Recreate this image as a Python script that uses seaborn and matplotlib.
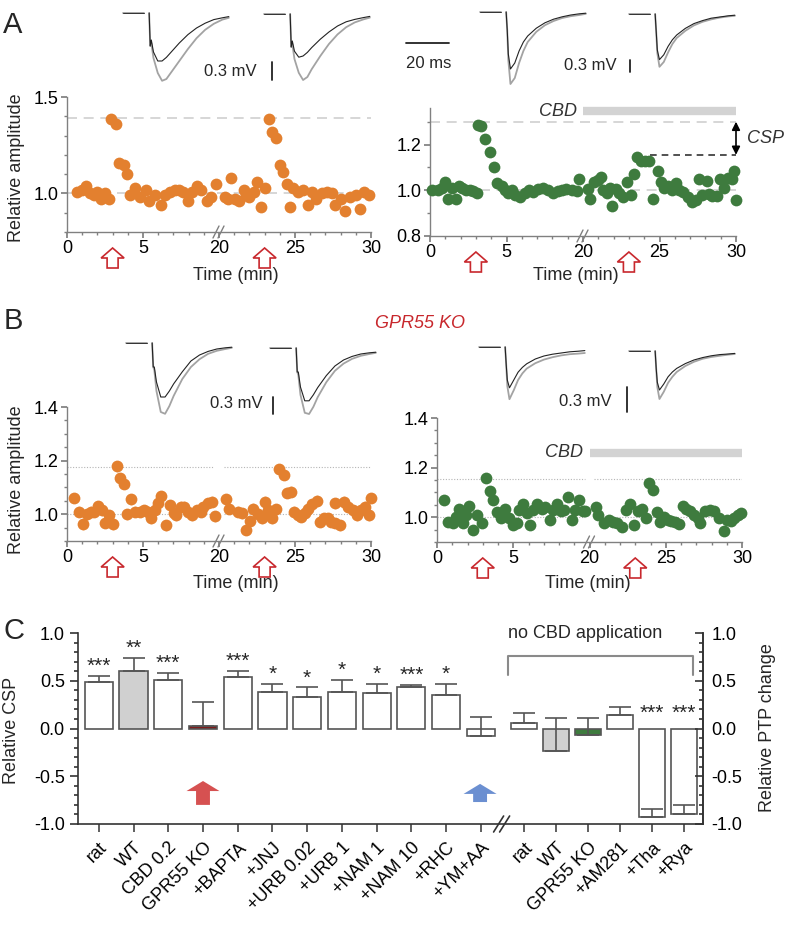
import numpy as np
import pandas as pd
import matplotlib
matplotlib.use("Agg")
import matplotlib.pyplot as plt
import seaborn as sns
from matplotlib.patches import Polygon
from matplotlib.ticker import MultipleLocator

sns.set_theme(style="ticks")
plt.rcParams["font.family"] = ["Liberation Sans", "DejaVu Sans"]
plt.rcParams["axes.unicode_minus"] = False

W, H = 789, 925

# ---- panel A/B time courses (min, relative amplitude) ----
a_ctrl_t = [0.64, 0.98, 1.27, 1.53, 1.76, 2.0, 2.24, 2.5, 2.76, 2.91, 3.2, 3.42, 3.76, 3.98, 4.16,
            4.5, 4.78, 5.18, 5.42, 5.8, 6.16, 6.47, 6.76, 7.09, 7.36, 7.64, 7.93, 8.2, 8.53, 8.82,
            9.2, 9.49, 9.8,
            20.4, 20.6, 20.8, 21.06, 21.3, 21.65, 21.8, 22.0, 22.3, 22.5, 22.75, 23.05, 23.27, 23.5,
            23.77, 24.0, 24.24, 24.46, 24.68, 24.85, 25.2, 25.5, 25.87, 26.1, 26.4, 26.8, 27.1,
            27.45, 27.66, 28.0, 28.3, 28.6, 29.0, 29.3, 29.55, 29.9]
a_ctrl_v = [1.01, 1.02, 1.04, 1.00, 0.99, 1.01, 0.97, 1.00, 0.97, 1.385, 1.36, 1.16, 1.15, 1.10, 0.99,
            1.03, 0.98, 1.02, 0.96, 0.99, 0.94, 0.99, 1.01, 1.02, 1.02, 1.01, 0.96, 1.01, 1.04, 1.02,
            0.96, 0.98, 1.05,
            0.98, 0.97, 1.08, 0.97, 0.96, 1.02, 0.99, 0.98, 1.01, 1.06, 0.93, 1.03, 1.385, 1.32,
            1.29, 1.15, 1.11, 1.05, 0.93, 1.03, 1.01, 1.02, 0.94, 1.01, 0.97, 1.00, 1.01,
            1.00, 0.94, 0.97, 0.91, 0.98, 0.99, 0.92, 1.01, 0.99]

a_cbd_t = [0.1, 0.5, 0.8, 0.98, 1.2, 1.41, 1.68, 1.92, 2.11, 2.33, 2.61, 2.83, 3.05, 3.16, 3.33,
           3.59, 3.92, 4.18, 4.36, 4.68, 4.9, 5.12, 5.38, 5.56, 5.88, 6.2, 6.47, 6.75, 7.08, 7.41,
           7.73, 8.06, 8.34, 8.6, 8.87, 9.26, 9.59, 9.74,
           20.35, 20.46, 20.74, 20.96, 21.18, 21.33, 21.55, 21.77, 21.92, 22.14, 22.35, 22.64,
           22.85, 23.14, 23.36, 23.53, 23.79, 24.05, 24.31, 24.6, 24.88, 25.1, 25.32, 25.58,
           25.84, 26.06, 26.27, 26.56, 26.88, 27.15, 27.37, 27.55, 27.8, 28.08, 28.24, 28.45,
           28.74, 28.95, 29.24, 29.5, 29.72, 29.9, 30.0]
a_cbd_v = [1.0, 1.0, 1.01, 1.036, 0.964, 1.01, 0.96, 1.02, 1.01, 1.0, 1.0, 0.997, 0.99, 1.287, 1.283,
           1.225, 1.167, 1.104, 1.03, 1.02, 1.0, 0.986, 1.0, 0.98, 0.97, 0.986, 1.0, 0.993, 1.007, 1.01,
           1.0, 0.986, 0.997, 1.0, 1.007, 1.0, 0.997, 1.05,
           1.007, 0.964, 1.036, 1.046, 1.06, 1.0, 0.99, 1.01, 0.933, 1.007, 0.99, 0.97,
           1.036, 0.978, 1.07, 1.145, 1.13, 1.128, 1.13, 0.96, 1.084, 1.036, 1.01, 1.017,
           1.0, 1.03, 1.0, 0.993, 0.97, 0.95, 0.957, 1.05, 0.978, 1.04, 0.983, 0.975,
           0.975, 1.05, 1.01, 1.055, 1.05, 1.084, 0.957]

b_ctrl_t = [0.47, 0.76, 1.04, 1.31, 1.58, 1.76, 2.02, 2.31, 2.53, 2.76, 3.04, 3.27, 3.49, 3.76, 3.98,
            4.24, 4.47, 4.82, 5.09, 5.36, 5.53, 5.76, 5.98, 6.2, 6.53, 6.76, 7.04, 7.2, 7.49, 7.71,
            7.98, 8.24, 8.53, 8.82, 8.98, 9.27, 9.53, 9.76,
            20.45, 20.63, 21.23, 21.5, 21.76, 22.03, 22.25, 22.57, 22.8, 23.05, 23.23, 23.49,
            23.77, 23.98, 24.26, 24.48, 24.74, 24.95, 25.2, 25.42, 25.64, 25.86, 26.14, 26.42,
            26.64, 26.9, 27.16, 27.38, 27.6, 27.66, 27.94, 28.2, 28.5, 28.79, 29.07, 29.33,
            29.59, 29.87, 30.0]
b_ctrl_v = [1.06, 1.009, 0.962, 1.0, 1.009, 1.009, 1.03, 1.015, 0.967, 0.996, 0.962, 1.179, 1.135,
            1.113, 1.0, 1.055, 1.009, 1.009, 1.015, 1.009, 0.984, 1.015, 1.04, 1.068, 0.958, 1.034,
            1.005, 0.996, 1.028, 1.028, 1.009, 0.996, 1.015, 1.009, 1.028, 1.04, 1.047, 0.992,
            1.055, 1.021, 1.009, 1.003, 0.942, 0.975, 1.021, 1.0, 0.984, 1.047, 1.015, 0.984,
            1.018, 1.169, 1.147, 1.08, 1.084, 1.009, 0.996, 0.99, 1.003, 1.021, 1.038, 1.05,
            0.971, 0.984, 0.984, 0.971, 1.04, 0.967, 0.958, 1.047, 1.028, 1.015, 0.996, 1.015,
            1.028, 0.996, 1.06]

b_cbd_t = [0.46, 0.74, 1.03, 1.25, 1.47, 1.73, 1.9, 2.12, 2.39, 2.65, 2.93, 3.22, 3.48, 3.7, 3.92,
           4.18, 4.47, 4.75, 4.97, 5.23, 5.4, 5.62, 5.89, 6.1, 6.32, 6.59, 6.87, 7.09, 7.38, 7.6,
           7.86, 8.12, 8.34, 8.56, 8.84, 9.06, 9.34, 9.56, 9.72,
           20.44, 20.59, 20.96, 21.25, 21.53, 21.79, 22.12, 22.41, 22.67, 22.93, 23.15, 23.44,
           23.72, 23.87, 24.16, 24.42, 24.64, 24.9, 25.12, 25.34, 25.62, 25.84, 26.13, 26.35,
           26.61, 26.87, 27.09, 27.26, 27.59, 27.88, 28.14, 28.47, 28.8, 29.02, 29.28, 29.5,
           29.72, 29.94]
b_cbd_v = [1.068, 0.981, 0.977, 1.001, 1.035, 0.977, 1.008, 1.044, 0.948, 1.008, 0.977, 1.159, 1.105,
           1.068, 1.021, 0.995, 1.035, 0.995, 0.968, 0.975, 1.028, 1.055, 1.017, 0.968, 1.028, 1.055,
           1.035, 1.041, 0.988, 1.028, 1.055, 1.025, 1.028, 1.081, 0.988, 1.028, 1.071, 1.025, 1.025,
           1.041, 1.008, 0.975, 0.988, 0.981, 0.975, 0.961, 1.028, 1.055, 0.968, 1.025, 1.035,
           0.998, 1.137, 1.111, 1.021, 0.981, 1.001, 0.988, 0.985, 0.981, 0.972, 1.044, 1.035,
           1.025, 1.008, 0.995, 0.975, 1.025, 1.028, 1.025, 0.995, 0.945, 0.988, 0.985, 0.998,
           1.008, 1.017]
point_sem = 0.02
stim_times = [3, 23]

# ---- fEPSP traces (ms after stimulus, mV) ----
base_t = [-12, -2.5]
trace_t = [0, 0.5, 1, 2, 4, 6, 8, 10, 14, 18, 22, 26, 30, 34, 37]
a_ctrl_pre = [0, -0.55, -0.45, -0.65, -0.80, -0.80, -0.74, -0.66, -0.50, -0.36, -0.25, -0.17, -0.11, -0.08, -0.06]
a_ctrl_ptp = [0, -0.55, -0.50, -0.75, -1.00, -1.13, -1.10, -1.00, -0.80, -0.60, -0.42, -0.28, -0.18, -0.11, -0.08]
a_ctrl_pre2 = [0, -0.55, -0.45, -0.62, -0.72, -0.70, -0.64, -0.56, -0.42, -0.30, -0.20, -0.13, -0.09, -0.06, -0.04]
a_ctrl_ptp2 = [0, -0.55, -0.50, -0.75, -0.98, -1.10, -1.05, -0.92, -0.70, -0.50, -0.34, -0.22, -0.14, -0.09, -0.06]
a_cbd_pre = [0, -0.30, -0.70, -0.95, -0.85, -0.65, -0.50, -0.40, -0.27, -0.18, -0.12, -0.08, -0.05, -0.03, -0.02]
a_cbd_ptp = [0, -0.30, -0.80, -1.20, -1.10, -0.85, -0.65, -0.50, -0.33, -0.22, -0.15, -0.10, -0.07, -0.05, -0.03]
a_cbd_pre2 = [0, -0.30, -0.60, -0.76, -0.68, -0.54, -0.43, -0.35, -0.24, -0.16, -0.11, -0.07, -0.05, -0.03, -0.02]
a_cbd_ptp2 = [0, -0.30, -0.65, -0.88, -0.80, -0.64, -0.50, -0.40, -0.28, -0.19, -0.13, -0.09, -0.06, -0.04, -0.03]
b_ctrl_pre = [0, -0.40, -0.40, -0.65, -0.90, -0.90, -0.80, -0.68, -0.48, -0.30, -0.20, -0.14, -0.10, -0.08, -0.07]
b_ctrl_ptp = [0, -0.40, -0.45, -0.80, -1.15, -1.18, -1.05, -0.88, -0.60, -0.40, -0.27, -0.18, -0.13, -0.10, -0.08]
b_ctrl_pre2 = [0, -0.40, -0.40, -0.65, -0.88, -0.88, -0.78, -0.66, -0.46, -0.30, -0.20, -0.14, -0.10, -0.08, -0.07]
b_ctrl_ptp2 = [0, -0.40, -0.45, -0.78, -1.08, -1.10, -0.98, -0.82, -0.57, -0.38, -0.26, -0.18, -0.13, -0.10, -0.08]
b_cbd_pre = [0, -0.30, -0.55, -0.68, -0.55, -0.42, -0.34, -0.28, -0.20, -0.15, -0.12, -0.10, -0.08, -0.07, -0.06]
b_cbd_ptp = [0, -0.30, -0.65, -0.87, -0.72, -0.55, -0.44, -0.36, -0.27, -0.21, -0.17, -0.14, -0.12, -0.11, -0.10]
b_cbd_pre2 = [0, -0.30, -0.52, -0.65, -0.55, -0.43, -0.35, -0.29, -0.21, -0.15, -0.11, -0.08, -0.06, -0.05, -0.04]
b_cbd_ptp2 = [0, -0.30, -0.60, -0.80, -0.68, -0.53, -0.43, -0.35, -0.25, -0.18, -0.13, -0.10, -0.08, -0.06, -0.05]

# ---- panel C ----
csp_labels = ["rat", "WT", "CBD 0.2", "GPR55 KO", "+BAPTA", "+JNJ", "+URB 0.02", "+URB 1",
              "+NAM 1", "+NAM 10", "+RHC", "+YM+AA"]
csp_mean = [0.49, 0.60, 0.51, 0.03, 0.54, 0.38, 0.33, 0.38, 0.37, 0.43, 0.35, -0.08]
csp_err = [0.06, 0.14, 0.07, 0.25, 0.06, 0.09, 0.10, 0.13, 0.10, 0.03, 0.12, 0.20]
csp_stars = ["***", "**", "***", "", "***", "*", "*", "*", "*", "***", "*", ""]
ptp_labels = ["rat", "WT", "GPR55 KO", "+AM281", "+Tha", "+Rya"]
ptp_mean = [0.06, -0.24, -0.07, 0.14, -0.93, -0.90]
ptp_err = [0.10, 0.35, 0.18, 0.08, 0.09, 0.10]
ptp_stars = ["", "", "", "", "***", "***"]

ORANGE, GREEN = "#e3802f", "#3e7b3e"
RED = "#c8282d"
SPINE = "#808080"

fig = plt.figure(figsize=(W / 100, H / 100), dpi=100)


def px_axes(l, t, r, b):
    return fig.add_axes([l / W, 1 - b / H, (r - l) / W, (b - t) / H])


def ftext(x, y, s, **kw):
    fig.text(x / W, 1 - y / H, s, **kw)


def to_px(ax, x, y):
    X, Y = ax.transData.transform((x, y))
    return X, H - Y


def squeeze(t):
    t = np.asarray(t, dtype=float)
    return np.where(t > 15, t - 10, t)


ov = fig.add_axes([0, 0, 1, 1], zorder=20)
ov.set_xlim(0, W)
ov.set_ylim(H, 0)
ov.axis("off")
ov.patch.set_alpha(0)


def time_panel(box, t, v, color, ecolor, ylim, major, minor, refs, dotted):
    ax = px_axes(*box)
    df = pd.DataFrame({"time": squeeze(t), "amp": v})
    for y0 in refs:
        if dotted:
            for seg in ([0, 9.7], [10.3, 20]):
                ax.plot(seg, [y0, y0], ls=(0, (1, 1.5)), color="#b5b5b5", lw=0.8, zorder=0)
        else:
            ax.plot([0, 20], [y0, y0], ls=(0, (6, 4)), color="#cfcfcf", lw=1.2, zorder=0)
    ax.errorbar(df["time"], df["amp"], yerr=point_sem, fmt="none", ecolor=ecolor, elinewidth=1, zorder=1)
    sns.scatterplot(data=df, x="time", y="amp", ax=ax, color=color, s=72, linewidth=0, zorder=3,
                    clip_on=False)
    ax.set_xlim(0, 20)
    ax.set_ylim(*ylim)
    ax.set_xticks([0, 5, 10, 15, 20])
    ax.set_xticklabels(["0", "5", "20", "25", "30"])
    ax.xaxis.set_minor_locator(MultipleLocator(1))
    ax.set_yticks(major)
    ax.set_yticklabels([f"{m:.1f}" for m in major])
    ax.yaxis.set_minor_locator(MultipleLocator(minor))
    ax.set_xlabel("")
    ax.set_ylabel("")
    sns.despine(ax=ax)
    for sp in ("left", "bottom"):
        ax.spines[sp].set_color(SPINE)
        ax.spines[sp].set_linewidth(1)
    ax.tick_params(which="both", colors=SPINE, labelcolor="black", labelsize=13, direction="out", pad=2)
    ax.tick_params(which="major", length=4)
    ax.tick_params(which="minor", length=2.5)
    ax.patch.set_alpha(0)
    # axis break and stimulus arrows
    bx, by = to_px(ax, 10, ylim[0])
    for dx in (-3, 2):
        ov.plot([bx + dx - 3, bx + dx + 3], [by + 6, by - 6], color=SPINE, lw=1)
    for ts in stim_times:
        cx, _ = to_px(ax, squeeze(ts), ylim[0])
        top = by + 16
        verts = [(cx, top), (cx + 11.5, top + 10), (cx + 5.5, top + 10), (cx + 5.5, top + 20),
                 (cx - 5.5, top + 20), (cx - 5.5, top + 10), (cx - 11.5, top + 10)]
        ov.add_patch(Polygon(verts, closed=True, fc="white", ec=RED, lw=1.2))
    return ax


axA1 = time_panel((67, 97, 371, 232), a_ctrl_t, a_ctrl_v, ORANGE, "#f3c79e", (0.8, 1.5),
                  [1.0, 1.5], 0.1, [1.0, 1.39], False)
axA2 = time_panel((430, 108, 736, 236), a_cbd_t, a_cbd_v, GREEN, "#a9c9a9", (0.8, 1.36),
                  [0.8, 1.0, 1.2], 0.1, [1.0, 1.30], False)
axB1 = time_panel((67, 407, 371, 541), b_ctrl_t, b_ctrl_v, ORANGE, "#f3c79e", (0.9, 1.4),
                  [1.0, 1.2, 1.4], 0.05, [1.0, 1.175], True)
axB2 = time_panel((437, 418, 742, 542), b_cbd_t, b_cbd_v, GREEN, "#a9c9a9", (0.9, 1.4),
                  [1.0, 1.2, 1.4], 0.05, [1.0, 1.155], True)

# CBD application bars and CSP annotation
for ax, yb in ((axA2, 1.345), (axB2, 1.26)):
    ax.plot([10, 20], [yb, yb], color="#d3d3d3", lw=6, solid_capstyle="butt", clip_on=False)
    ax.text(9.6, yb, "CBD", style="italic", ha="right", va="center", fontsize=13, color="#333333")
axA2.plot([14.4, 20], [1.155, 1.155], ls=(0, (4, 3)), color="#333333", lw=1.2)
axA2.annotate("", xy=(20, 1.30), xytext=(20, 1.155),
              arrowprops=dict(arrowstyle="<|-|>", color="black", lw=1.2, mutation_scale=12,
                              shrinkA=0, shrinkB=0), annotation_clip=False)
axA2.text(20.7, 1.228, "CSP", style="italic", ha="left", va="center", fontsize=13, color="#333333")


# traces
def trace_pair(sx, by, pre, ptp):
    ax = px_axes(sx - 30, by - 6, sx + 82, by + 75)
    ax.plot(base_t, [0, 0], color="#9a9a9a", lw=1.2)
    ax.plot(base_t, [0, 0], color="#333333", lw=0.7)
    ax.plot(trace_t, ptp, color="#a3a3a3", lw=1.3)
    ax.plot(trace_t, pre, color="#222222", lw=0.8)
    ax.set_xlim(-14, 38)
    ax.set_ylim(-1.25, 0.1)
    ax.axis("off")


trace_pair(149, 13, a_ctrl_pre, a_ctrl_ptp)
trace_pair(290, 14, a_ctrl_pre2, a_ctrl_ptp2)
trace_pair(506, 12, a_cbd_pre, a_cbd_ptp)
trace_pair(655, 14, a_cbd_pre2, a_cbd_ptp2)
trace_pair(152, 343, b_ctrl_pre, b_ctrl_ptp)
trace_pair(296, 348, b_ctrl_pre2, b_ctrl_ptp2)
trace_pair(505, 347, b_cbd_pre, b_cbd_ptp)
trace_pair(655, 351, b_cbd_pre2, b_cbd_ptp2)

# scale bars
for x, y0, y1, tx, ty in ((272, 62, 80, 257, 71), (630, 60, 72, 617, 66),
                          (273, 397, 414, 263, 404), (627, 387, 412, 612, 401)):
    ov.plot([x, x], [y0, y1], color="#222222", lw=1.3)
    ftext(tx, ty, "0.3 mV", ha="right", va="center", fontsize=12)
ov.plot([406, 449], [43, 43], color="#222222", lw=1.3)
ftext(429, 63, "20 ms", ha="center", va="center", fontsize=12)

# labels
ftext(13, 25, "A", fontsize=21, ha="center", va="center")
ftext(13, 321, "B", fontsize=21, ha="center", va="center")
ftext(14, 631, "C", fontsize=21, ha="center", va="center")
ftext(420, 323, "GPR55 KO", color=RED, style="italic", fontsize=13, ha="center", va="center")
for x, y in ((236, 276), (576, 276), (236, 584), (588, 584)):
    ftext(x, y, "Time (min)", fontsize=13, ha="center", va="center")
ftext(17, 168, "Relative amplitude", rotation=90, fontsize=13, ha="center", va="center")
ftext(17, 480, "Relative amplitude", rotation=90, fontsize=13, ha="center", va="center")

# ---- panel C bars ----
axC = px_axes(78, 633, 703, 824)
pos_c = np.arange(len(csp_labels))
pos_p = 12.25 + 0.92 * np.arange(len(ptp_labels))
EDGE = "#555555"
csp_fill = ["white"] * len(csp_labels)
csp_fill[1], csp_fill[3] = "#d0d0d0", "#7d1c1c"
ptp_fill = ["white"] * len(ptp_labels)
ptp_fill[1], ptp_fill[2] = "#d0d0d0", "#3e7b3e"

for pos, mean, err, fill, stars, wd in ((pos_c, csp_mean, csp_err, csp_fill, csp_stars, 0.81),
                                        (pos_p, ptp_mean, ptp_err, ptp_fill, ptp_stars, 0.75)):
    axC.bar(pos, mean, width=wd, color=fill, edgecolor=EDGE, lw=1.2, zorder=2)
    axC.errorbar(pos, mean, yerr=[np.zeros(len(err)), err], fmt="none", ecolor=EDGE,
                 elinewidth=1.2, capsize=8, capthick=1.2, zorder=3)
    for p, m, e, s in zip(pos, mean, err, stars):
        if s:
            y = m + e + 0.0 if m > 0 else 0.06
            axC.text(p, y, s, ha="center", va="bottom", fontsize=15)

axC.set_xlim(-0.6, 17.4)
axC.set_ylim(-1, 1)
ticks = [-1, -0.5, 0, 0.5, 1]
axC.set_yticks(ticks)
axC.set_yticklabels([f"{t:.1f}" for t in ticks])
axC.yaxis.set_minor_locator(MultipleLocator(0.1))
axC.set_xticks(np.concatenate([pos_c, pos_p]))
axC.set_xticklabels(csp_labels + ptp_labels, rotation=45, ha="right", rotation_mode="anchor")
for lab in axC.get_xticklabels():
    if lab.get_text() == "GPR55 KO":
        lab.set_color(RED)
axC.tick_params(axis="x", length=6, width=1.2, colors="#444444", labelcolor="black", labelsize=13, pad=5)
axC.tick_params(axis="y", which="both", colors="#333333", labelcolor="black", labelsize=13, width=1.2)
axC.tick_params(axis="y", which="major", length=6)
axC.tick_params(axis="y", which="minor", length=3)
sns.despine(ax=axC, right=False)
for sp in ("left", "bottom", "right"):
    axC.spines[sp].set_color("#333333")
    axC.spines[sp].set_linewidth(1.2)
axC.patch.set_alpha(0)

twin = axC.twinx()
twin.set_ylim(-1, 1)
twin.set_yticks(ticks)
twin.set_yticklabels([f"{t:.1f}" for t in ticks])
twin.yaxis.set_minor_locator(MultipleLocator(0.1))
twin.tick_params(axis="y", which="both", direction="in", colors="#333333", labelcolor="black",
                 labelsize=13, width=1.2, pad=6)
twin.tick_params(axis="y", which="major", length=6)
twin.tick_params(axis="y", which="minor", length=3)
for sp in ("top", "left", "bottom"):
    twin.spines[sp].set_visible(False)
twin.spines["right"].set_color("#333333")
twin.spines["right"].set_linewidth(1.2)

axC.plot([11.79, 11.79, 17.12, 17.12], [0.56, 0.76, 0.76, 0.56], color="#8a8a8a", lw=1.5,
         clip_on=False)
axC.text(14.0, 0.99, "no CBD application", ha="center", va="center", fontsize=13)
axC.arrow(3, -0.80, 0, 0.25, width=0.4, head_width=0.95, head_length=0.105,
          length_includes_head=True, color="#d65151", lw=0)
axC.arrow(10.98, -0.77, 0, 0.19, width=0.4, head_width=0.95, head_length=0.105,
          length_includes_head=True, color="#6b8fd1", lw=0)
bx, by = to_px(axC, 11.6, -1)
for dx in (-3, 3):
    ov.plot([bx + dx - 5, bx + dx + 5], [by + 8, by - 8], color="#333333", lw=1.2)

ftext(12, 730, "Relative CSP", rotation=90, fontsize=13, ha="center", va="center")
ftext(768, 728, "Relative PTP change", rotation=90, fontsize=13, ha="center", va="center")

fig.savefig("out.png", dpi=100)
